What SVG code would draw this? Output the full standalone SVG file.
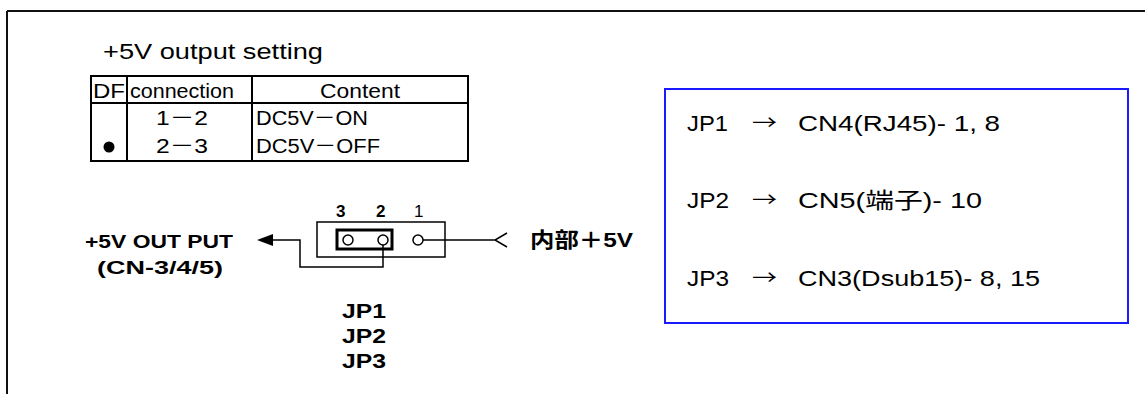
<svg xmlns="http://www.w3.org/2000/svg" width="1145" height="394" viewBox="0 0 1145 394">
<style>
.t{font-family:"Liberation Sans","Noto Sans CJK JP",sans-serif;fill:#000}
.b{font-family:"Liberation Sans","Noto Sans CJK JP",sans-serif;font-weight:bold;fill:#000}
.a{font-family:"Noto Sans CJK JP",sans-serif;fill:#000}
.ln{stroke:#000;fill:none}
</style>
<rect width="1145" height="394" fill="#fff"/>
<g id="frame">
<path d="M7,11 H1145 M7,11 V394" stroke="#111" stroke-width="2" fill="none"/>
</g>
<g id="title">
<text class="t" x="103" y="59" font-size="22" textLength="220" lengthAdjust="spacingAndGlyphs">+5V output setting</text>
</g>
<g id="table">
<rect x="91" y="76" width="377" height="85" class="ln" stroke-width="2"/>
<path d="M91,103 H468 M127,76 V161 M252,76 V161" class="ln" stroke-width="2"/>
<text class="t" x="93" y="98" font-size="20" textLength="32" lengthAdjust="spacingAndGlyphs">DF</text>
<text class="t" x="130" y="98" font-size="20" textLength="104" lengthAdjust="spacingAndGlyphs">connection</text>
<text class="t" x="320" y="98" font-size="20" textLength="80" lengthAdjust="spacingAndGlyphs">Content</text>
<text class="t" x="156" y="125" font-size="20" textLength="52" lengthAdjust="spacingAndGlyphs">1－2</text>
<text class="t" x="156" y="153" font-size="20" textLength="52" lengthAdjust="spacingAndGlyphs">2－3</text>
<text class="t" x="256" y="125" font-size="20" textLength="112" lengthAdjust="spacingAndGlyphs">DC5V－ON</text>
<text class="t" x="256" y="153" font-size="20" textLength="124" lengthAdjust="spacingAndGlyphs">DC5V－OFF</text>
<circle cx="109" cy="147" r="5.5" fill="#000"/>
</g>
<g id="jumper">
<text class="b" x="336" y="217" font-size="17">3</text>
<text class="b" x="376" y="217" font-size="17">2</text>
<text class="t" x="414" y="217" font-size="17">1</text>
<rect x="317" y="222" width="128" height="35" class="ln" stroke-width="1.5"/>
<rect x="337" y="230" width="55" height="19" class="ln" stroke-width="3"/>
<circle cx="348" cy="240" r="5" fill="#fff" stroke="#000" stroke-width="1.5"/>
<circle cx="383" cy="240" r="5" fill="#fff" stroke="#000" stroke-width="1.5"/>
<circle cx="418" cy="240" r="5" fill="#fff" stroke="#000" stroke-width="1.5"/>
<text class="b" x="342" y="318" font-size="20" textLength="44" lengthAdjust="spacingAndGlyphs">JP1</text>
<text class="b" x="342" y="343" font-size="20" textLength="44" lengthAdjust="spacingAndGlyphs">JP2</text>
<text class="b" x="342" y="368" font-size="20" textLength="44" lengthAdjust="spacingAndGlyphs">JP3</text>
</g>
<g id="output-label">
<text class="b" x="85" y="248" font-size="19" textLength="148" lengthAdjust="spacingAndGlyphs">+5V  OUT PUT</text>
<text class="b" x="97" y="274" font-size="19" textLength="126" lengthAdjust="spacingAndGlyphs">(CN-3/4/5)</text>
</g>
<g id="input-label">
<text class="b" x="530" y="247" font-size="21" textLength="103" lengthAdjust="spacingAndGlyphs">内部＋5V</text>
</g>
<g id="connectors">
<path d="M423,240 H496 M507,233 L495,240 L507,247" class="ln" stroke-width="1.5"/>
<path d="M383,245 V267 H300 V240 H272" class="ln" stroke-width="1.5"/>
<polygon points="257,240 273,234 273,246" fill="#000"/>
</g>
<g id="mapping">
<rect x="665" y="89" width="463" height="234" fill="none" stroke="#1a1aff" stroke-width="2"/>
<text class="t" x="687" y="131" font-size="22" textLength="41" lengthAdjust="spacingAndGlyphs">JP1</text>
<text class="a" x="752" y="130" font-size="20" textLength="25" lengthAdjust="spacingAndGlyphs">→</text>
<text class="t" x="798" y="131" font-size="22" textLength="202" lengthAdjust="spacingAndGlyphs">CN4(RJ45)- 1, 8</text>
<text class="t" x="687" y="208" font-size="22" textLength="42" lengthAdjust="spacingAndGlyphs">JP2</text>
<text class="a" x="752" y="207" font-size="20" textLength="25" lengthAdjust="spacingAndGlyphs">→</text>
<text class="t" x="798" y="208" font-size="22" textLength="184" lengthAdjust="spacingAndGlyphs">CN5(端子)- 10</text>
<text class="t" x="687" y="286" font-size="22" textLength="42" lengthAdjust="spacingAndGlyphs">JP3</text>
<text class="a" x="752" y="285" font-size="20" textLength="25" lengthAdjust="spacingAndGlyphs">→</text>
<text class="t" x="798" y="286" font-size="22" textLength="242" lengthAdjust="spacingAndGlyphs">CN3(Dsub15)- 8, 15</text>
</g>
</svg>
